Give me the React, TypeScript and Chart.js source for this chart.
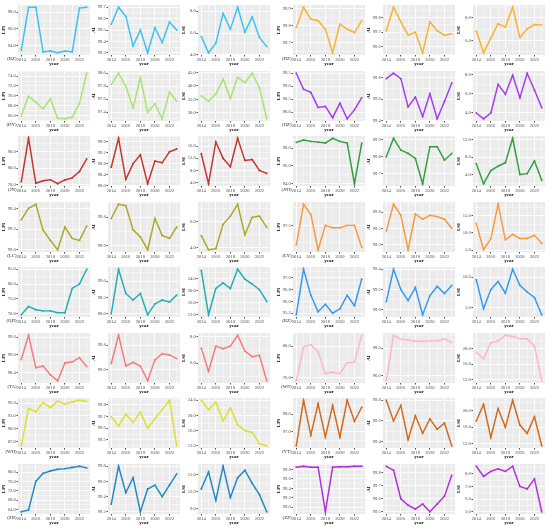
import React, { useEffect, useRef } from 'react';
import { Chart, registerables } from 'chart.js';
Chart.register(...registerables);

const YEARS = [2014, 2015, 2016, 2017, 2018, 2019, 2020, 2021, 2022, 2023];
const X_TICKS = [2014, 2016, 2018, 2020, 2022];
const CITIES = ['BZ', 'DZ', 'DY', 'HZ', 'JN', 'JNI', 'LC', 'LY', 'QD', 'RZ', 'TA', 'WF', 'WH', 'YT', 'ZB', 'ZZ'];
const METRICS = ['LPI', 'AI', 'LSI'];
const COLORS = ['#36C3F3', '#F7B32E', '#A8E36C', '#A63AF0', '#C4332E', '#2E9E3E', '#ABA629', '#FA983A',
  '#21ADB5', '#3399F0', '#F57A7A', '#FFB3CF', '#DEDE2C', '#CC6B1E', '#1F88C4', '#B02ED6'];

const BZ_LPI = [93.4, 98.6, 98.6, 93.2, 93.3, 93.1, 93.3, 93.2, 98.5, 98.6];
const BZ_AI = [99.55, 99.70, 99.62, 99.36, 99.50, 99.30, 99.52, 99.39, 99.57, 99.50];
const BZ_LSI = [5.68, 4.20, 5.08, 7.80, 6.36, 8.36, 6.08, 7.48, 5.60, 4.76];
const DZ_LPI = [99.79, 99.91, 99.84, 99.83, 99.78, 99.64, 99.81, 99.78, 99.76, 99.83];
const DZ_AI = [99.71, 99.87, 99.77, 99.68, 99.70, 99.56, 99.77, 99.71, 99.68, 99.69];
const DZ_LSI = [6.85, 4.89, 6.20, 7.48, 7.18, 8.95, 6.26, 7.02, 7.41, 7.38];
const DY_LPI = [65.9, 69.9, 68.7, 67.3, 69.4, 65.4, 65.3, 65.6, 68.4, 74.6];
const DY_AI = [97.83, 98.00, 97.80, 97.47, 97.93, 97.40, 97.53, 97.30, 97.71, 97.57];
const DY_LSI = [36.3, 34.3, 37.0, 42.5, 35.3, 43.2, 41.3, 44.7, 39.3, 27.8];
const HZ_LPI = [99.50, 98.88, 98.76, 98.18, 98.22, 97.78, 98.34, 97.74, 98.08, 98.56];
const HZ_AI = [99.79, 99.84, 99.79, 99.53, 99.62, 99.44, 99.65, 99.42, 99.58, 99.75];
const HZ_LSI = [4.0, 3.4, 4.0, 7.0, 5.96, 7.96, 5.6, 8.16, 6.4, 4.56];
const JN_LPI = [71.6, 98.2, 70.7, 72.2, 72.9, 70.4, 72.7, 74.0, 77.8, 85.6];
const JN_AI = [98.67, 99.72, 98.23, 98.80, 99.12, 98.07, 98.89, 98.83, 99.23, 99.33];
const JN_LSI = [13.5, 3.6, 17.4, 12.0, 9.2, 18.6, 11.3, 11.6, 8.0, 7.0];
const JNI_LPI = [98.64, 98.90, 98.75, 98.67, 98.56, 99.10, 98.75, 98.56, 94.00, 98.56];
const JNI_AI = [99.80, 99.91, 99.84, 99.82, 99.79, 99.64, 99.86, 99.86, 99.78, 99.82];
const JNI_LSI = [6.5, 1.9, 4.9, 5.9, 6.7, 12.3, 4.0, 4.2, 7.1, 2.7];
const LC_LPI = [99.29, 99.40, 99.44, 99.19, 99.09, 99.00, 99.22, 99.11, 99.09, 99.23];
const LC_AI = [99.79, 99.89, 99.88, 99.71, 99.66, 99.57, 99.79, 99.67, 99.65, 99.73];
const LC_LSI = [4.94, 3.86, 3.94, 5.80, 6.43, 7.34, 5.00, 6.34, 6.43, 5.57];
const LY_LPI = [96.67, 98.40, 97.97, 96.46, 97.50, 97.40, 97.40, 97.50, 97.50, 96.56];
const LY_AI = [99.46, 99.87, 99.70, 99.17, 99.72, 99.64, 99.70, 99.68, 99.64, 99.50];
const LY_LSI = [12.8, 5.1, 8.3, 18.4, 8.0, 9.6, 8.4, 8.4, 9.3, 7.0];
const QD_LPI = [69.6, 72.4, 71.3, 70.9, 70.9, 70.3, 70.3, 78.5, 80.0, 85.0];
const QD_AI = [98.0, 99.36, 98.62, 98.42, 98.62, 97.97, 98.30, 98.42, 98.36, 98.57];
const QD_LSI = [26.7, 12.0, 20.7, 22.6, 20.7, 27.1, 23.8, 22.2, 20.3, 16.4];
const RZ_LPI = [95.1, 98.15, 96.4, 95.3, 95.8, 95.2, 95.5, 96.4, 95.7, 97.5];
const RZ_AI = [99.08, 99.40, 99.20, 99.09, 99.22, 98.95, 99.14, 99.23, 99.16, 99.24];
const RZ_LSI = [9.6, 4.9, 8.0, 9.3, 7.4, 11.3, 8.7, 7.6, 6.7, 3.9];
const TA_LPI = [98.84, 99.66, 98.56, 98.62, 98.32, 98.12, 98.72, 98.76, 98.90, 98.60];
const TA_AI = [99.65, 99.88, 99.63, 99.66, 99.63, 99.51, 99.68, 99.73, 99.72, 99.69];
const TA_LSI = [7.15, 5.40, 7.30, 7.10, 7.30, 8.13, 6.93, 6.50, 6.60, 4.67];
const WF_LPI = [75.6, 79.9, 80.2, 79.3, 76.5, 76.7, 76.5, 77.9, 78.0, 81.4];
const WF_AI = [95.6, 98.94, 98.65, 98.6, 98.5, 98.5, 98.53, 98.53, 98.68, 98.4];
const WF_LSI = [19.0, 17.4, 21.4, 21.9, 23.3, 23.0, 22.4, 22.4, 20.6, 11.8];
const WH_LPI = [86.0, 94.8, 94.0, 96.2, 95.0, 96.5, 95.8, 96.3, 96.7, 96.4];
const WH_AI = [99.70, 99.62, 99.72, 99.65, 99.74, 99.60, 99.68, 99.76, 99.84, 99.45];
const WH_LSI = [24.0, 21.5, 23.5, 18.5, 22.0, 17.5, 16.0, 15.5, 12.5, 12.0];
const YT_LPI = [96.2, 98.8, 96.8, 98.6, 96.7, 98.5, 96.7, 98.8, 97.6, 98.4];
const YT_AI = [99.80, 99.60, 99.75, 99.42, 99.65, 99.48, 99.62, 99.52, 99.58, 99.36];
const YT_LSI = [17.5, 21.5, 13.5, 20.5, 16.0, 22.5, 16.5, 14.5, 18.5, 11.5];
const ZB_LPI = [63.0, 63.8, 76.0, 79.5, 80.5, 81.2, 81.5, 82.0, 82.5, 81.8];
const ZB_AI = [99.30, 99.80, 99.45, 99.65, 99.20, 99.50, 99.55, 99.40, 99.55, 99.70];
const ZB_LSI = [12.5, 15.5, 10.5, 16.5, 11.0, 14.5, 15.8, 13.5, 11.5, 8.5];
const ZZ_LPI = [99.85, 99.87, 99.85, 99.85, 98.90, 99.85, 99.86, 99.86, 99.87, 99.87];
const ZZ_AI = [99.85, 99.82, 99.60, 99.55, 99.52, 99.56, 99.50, 99.56, 99.62, 99.78];
const ZZ_LSI = [8.6, 7.8, 8.2, 8.4, 8.2, 8.6, 7.0, 6.8, 7.6, 5.0];

const BZ_TICKS = [[94, 96, 98], [99.3, 99.4, 99.5, 99.6, 99.7], [4, 6, 8]];
const DZ_TICKS = [[99.6, 99.7, 99.8, 99.9], [99.6, 99.7, 99.8, 99.9], [4, 6, 8]];
const DY_TICKS = [[66, 68, 70, 72, 74], [97.2, 97.4, 97.6, 97.8, 98.0], [30, 35, 40, 45]];
const HZ_TICKS = [[98.0, 98.5, 99.0, 99.5], [99.4, 99.6, 99.8], [4, 6, 8]];
const JN_TICKS = [[70, 80, 90], [98.0, 98.4, 98.8, 99.2, 99.6], [4, 8, 12, 16, 20]];
const JNI_TICKS = [[94, 96, 98], [99.6, 99.7, 99.8, 99.9], [0, 4, 8, 12]];
const LC_TICKS = [[99.0, 99.2, 99.4], [99.6, 99.8], [4, 6, 8]];
const LY_TICKS = [[96.0, 97.5, 99.0], [99.25, 99.5, 99.75], [5, 10, 15]];
const QD_TICKS = [[70, 75, 80, 85], [98.0, 98.5, 99.0, 99.5], [12, 16, 20, 24, 28]];
const RZ_TICKS = [[95.2, 96.0, 96.8, 97.6, 98.4], [99.0, 99.2, 99.4], [5, 10]];
const TA_TICKS = [[98.4, 99.0, 99.6], [99.6, 99.8], [6, 8]];
const WF_TICKS = [[76, 80], [96, 98], [12, 16, 20, 24]];
const WH_TICKS = [[87, 90, 93, 96], [99.5, 99.6, 99.7, 99.8], [12, 16, 20, 24]];
const YT_TICKS = [[96, 97, 98], [99.4, 99.6, 99.8], [12, 16, 20]];
const ZB_TICKS = [[64, 68, 72, 76, 80], [99.2, 99.4, 99.6, 99.8], [9, 12, 15]];
const ZZ_TICKS = [[99.0, 99.2, 99.4, 99.6, 99.8], [99.5, 99.6, 99.7, 99.8], [5, 6, 7, 8]];

const SERIES: Record<string, number[][]> = {
  BZ: [BZ_LPI, BZ_AI, BZ_LSI], DZ: [DZ_LPI, DZ_AI, DZ_LSI], DY: [DY_LPI, DY_AI, DY_LSI],
  HZ: [HZ_LPI, HZ_AI, HZ_LSI], JN: [JN_LPI, JN_AI, JN_LSI], JNI: [JNI_LPI, JNI_AI, JNI_LSI],
  LC: [LC_LPI, LC_AI, LC_LSI], LY: [LY_LPI, LY_AI, LY_LSI], QD: [QD_LPI, QD_AI, QD_LSI],
  RZ: [RZ_LPI, RZ_AI, RZ_LSI], TA: [TA_LPI, TA_AI, TA_LSI], WF: [WF_LPI, WF_AI, WF_LSI],
  WH: [WH_LPI, WH_AI, WH_LSI], YT: [YT_LPI, YT_AI, YT_LSI], ZB: [ZB_LPI, ZB_AI, ZB_LSI],
  ZZ: [ZZ_LPI, ZZ_AI, ZZ_LSI],
};
const TICKS: Record<string, number[][]> = {
  BZ: BZ_TICKS, DZ: DZ_TICKS, DY: DY_TICKS, HZ: HZ_TICKS, JN: JN_TICKS, JNI: JNI_TICKS,
  LC: LC_TICKS, LY: LY_TICKS, QD: QD_TICKS, RZ: RZ_TICKS, TA: TA_TICKS, WF: WF_TICKS,
  WH: WH_TICKS, YT: YT_TICKS, ZB: ZB_TICKS, ZZ: ZZ_TICKS,
};

// layout
const COL_LEFT = [18, 108, 198, 293, 383, 473];
const ROW_TOP0 = 5;
const ROW_PITCH = 65.5;
const PLOT_W = 72;
const PLOT_H = 50;
const Y_W = 17;
const PAD_T = 4;
const PAD_R = 3;
const X_H = 12;
const XMIN = 2013.55;
const XMAX = 2023.45;
const FONT = '"Liberation Serif", "Times New Roman", serif';
const FS = 4.6;

function buildTicks(majors: number[], min: number, max: number) {
  const step = majors.length > 1 ? majors[1] - majors[0] : 1;
  const eps = step * 1e-6;
  const out: { value: number; minor: boolean }[] = [];
  for (const m of majors) if (m >= min - eps && m <= max + eps) out.push({ value: m, minor: false });
  const ext = [majors[0] - step, ...majors, majors[majors.length - 1] + step];
  for (const m of ext) {
    const v = m + step / 2;
    if (v >= min && v <= max && !out.some((t) => Math.abs(t.value - v) < eps)) out.push({ value: v, minor: true });
  }
  out.sort((a, b) => a.value - b.value);
  return out;
}

const bgPlugin = {
  id: 'panelBg',
  beforeDraw(chart: any) {
    const { ctx, chartArea: a } = chart;
    ctx.save();
    ctx.fillStyle = '#EBEBEB';
    ctx.fillRect(a.left, a.top, a.right - a.left, a.bottom - a.top);
    ctx.restore();
  },
};

function Panel(props: { values: number[]; majors: number[]; color: string; metric: string }) {
  const ref = useRef<HTMLCanvasElement>(null);
  const { values, majors, color, metric } = props;
  useEffect(() => {
    const lo = Math.min(...values);
    const hi = Math.max(...values);
    const pad = (hi - lo) * 0.05 || 0.5;
    const ymin = lo - pad;
    const ymax = hi + pad;
    const gridCommon = {
      color: '#FFFFFF',
      lineWidth: (c: any) => (c.tick && c.tick.minor ? 0.45 : 0.9),
      tickColor: (c: any) => (c.tick && c.tick.minor ? 'rgba(0,0,0,0)' : '#333333'),
      tickLength: 1.5,
      drawOnChartArea: true,
    };
    const chart = new Chart(ref.current as HTMLCanvasElement, {
      type: 'line',
      data: {
        datasets: [
          {
            data: YEARS.map((x, i) => ({ x, y: values[i] })),
            borderColor: color,
            backgroundColor: color,
            borderWidth: 1.45,
            pointRadius: 0.9,
            pointBorderWidth: 0,
            pointHoverRadius: 0,
            tension: 0,
          },
        ],
      },
      options: {
        animation: false,
        responsive: false,
        events: [],
        layout: { padding: { top: PAD_T, right: PAD_R, left: 0, bottom: 0 } },
        plugins: { legend: { display: false }, tooltip: { enabled: false } },
        scales: {
          x: {
            type: 'linear',
            min: XMIN,
            max: XMAX,
            afterFit: (s: any) => { s.height = X_H; },
            afterBuildTicks: (s: any) => { s.ticks = buildTicks(X_TICKS, XMIN, XMAX); },
            border: { display: false },
            grid: gridCommon as any,
            ticks: {
              autoSkip: false,
              maxRotation: 0,
              padding: 0.6,
              color: '#4D4D4D',
              font: { family: FONT, size: FS },
              callback: (v: any, i: number, t: any[]) => (t[i] && t[i].minor ? '' : String(v)),
            },
            title: { display: true, text: 'year', color: '#000000', padding: 0, font: { family: FONT, size: FS + 0.4, weight: 'bold' } },
          },
          y: {
            type: 'linear',
            min: ymin,
            max: ymax,
            afterFit: (s: any) => { s.width = Y_W; },
            afterBuildTicks: (s: any) => { s.ticks = buildTicks(majors, ymin, ymax); },
            border: { display: false },
            grid: gridCommon as any,
            ticks: {
              autoSkip: false,
              padding: 0.8,
              color: '#4D4D4D',
              font: { family: FONT, size: FS },
              callback: (v: any, i: number, t: any[]) => (t[i] && t[i].minor ? '' : Number(v).toFixed(1)),
            },
            title: { display: true, text: metric, color: '#000000', padding: 0, font: { family: FONT, size: FS + 0.4, weight: 'bold' } },
          },
        },
      } as any,
      plugins: [bgPlugin],
    });
    return () => chart.destroy();
  }, []);
  return (
    <canvas
      ref={ref}
      width={Y_W + PLOT_W + PAD_R}
      height={PAD_T + PLOT_H + X_H}
      style={{ display: 'block', width: Y_W + PLOT_W + PAD_R, height: PAD_T + PLOT_H + X_H }}
    />
  );
}

export default function App() {
  const items: React.ReactNode[] = [];
  CITIES.forEach((city, ci) => {
    const row = Math.floor(ci / 2);
    const group = ci % 2;
    const plotTop = ROW_TOP0 + row * ROW_PITCH;
    METRICS.forEach((metric, mi) => {
      const col = group * 3 + mi;
      const plotLeft = COL_LEFT[col];
      items.push(
        <div key={city + metric} style={{ position: 'absolute', left: plotLeft - Y_W, top: plotTop - PAD_T }}>
          <Panel values={SERIES[city][mi]} majors={TICKS[city][mi]} color={COLORS[ci]} metric={metric} />
        </div>
      );
    });
    const l = COL_LEFT[group * 3];
    items.push(
      <div
        key={city + '-label'}
        style={{
          position: 'absolute',
          left: l - 31,
          width: 29.6,
          top: plotTop + PLOT_H + 1.4,
          textAlign: 'right',
          fontFamily: FONT,
          fontSize: FS + 0.2,
          lineHeight: '5.5px',
          color: '#222222',
          whiteSpace: 'nowrap',
        }}
      >
        {'(' + city + ')'}
      </div>
    );
  });
  return (
    <div style={{ position: 'absolute', left: 0, top: 0, width: 550, height: 530, background: '#FFFFFF', overflow: 'hidden' }}>
      {items}
    </div>
  );
}
